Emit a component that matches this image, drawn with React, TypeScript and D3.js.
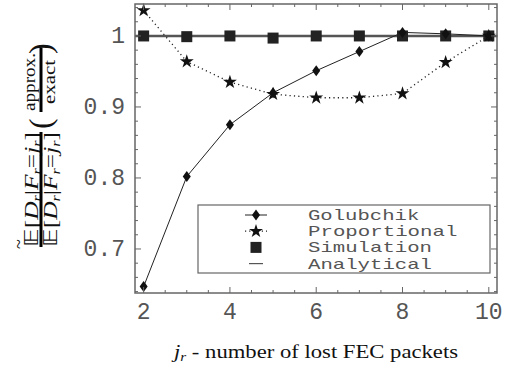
import React from 'react';
import * as d3 from 'd3';

// values
const jr = [2, 3, 4, 5, 6, 7, 8, 9, 10];
const golubchik = [0.647, 0.802, 0.875, 0.92, 0.951, 0.978, 1.005, 1.003, 1.0];
const proportional = [1.036, 0.964, 0.935, 0.918, 0.913, 0.913, 0.919, 0.963, 1.0];
const simulation = [1.0, 0.999, 1.0, 0.997, 1.0, 1.0, 1.0, 1.0, 1.0];
const analyticalX = [1.8, 10.2];
const analyticalY = [1.0, 1.0];

const xTickLabels = [2, 4, 6, 8, 10];
const yTickLabels = [0.7, 0.8, 0.9, 1];
const legendItems = ['Golubchik', 'Proportional', 'Simulation', 'Analytical'];

const W = 516;
const H = 368;
const plot = { left: 135, right: 497, top: 4, bottom: 293 };

const monoFont = '"Liberation Mono", "DejaVu Sans Mono", monospace';
const serifFont = '"Liberation Serif", "DejaVu Serif", serif';

const diamondPath = 'M0,-5.5L4,0L0,5.5L-4,0Z';
const starPath = d3.symbol(d3.symbolStar, 60)() as string;

// E[D_r | F_r = j_r] written out as tspans
const Expectation: React.FC<{ y: number }> = ({ y }) => (
  <text x={-247} y={y} fontSize={19} textLength={115} lengthAdjust="spacingAndGlyphs">
    <tspan fontFamily="DejaVu Sans">𝔼</tspan>
    <tspan>[</tspan>
    <tspan fontStyle="italic">D</tspan>
    <tspan fontStyle="italic" fontSize={12} dy={3}>r</tspan>
    <tspan dy={-3}>|</tspan>
    <tspan fontStyle="italic">F</tspan>
    <tspan fontStyle="italic" fontSize={12} dy={3}>r</tspan>
    <tspan dy={-3}>=</tspan>
    <tspan fontStyle="italic">j</tspan>
    <tspan fontStyle="italic" fontSize={12} dy={3}>r</tspan>
    <tspan dy={-3}>]</tspan>
  </text>
);

const App: React.FC = () => {
  const x = d3.scaleLinear().domain([1.8, 10.19]).range([plot.left, plot.right]);
  const y = d3.scaleLinear().domain([0.638, 1.045]).range([plot.bottom, plot.top]);

  const line = d3.line<[number, number]>()
    .x(d => x(d[0]))
    .y(d => y(d[1]));

  const golPts = jr.map((v, i) => [v, golubchik[i]] as [number, number]);
  const propPts = jr.map((v, i) => [v, proportional[i]] as [number, number]);
  const anaPts = analyticalX.map((v, i) => [v, analyticalY[i]] as [number, number]);

  const xTicks = d3.range(2, 10.01, 0.5);
  const yTicks = d3.range(0.64, 1.041, 0.02);
  const isMajorY = (v: number) => Math.abs(v * 10 - Math.round(v * 10)) < 1e-6;
  const isMajorX = (v: number) => Math.abs(v / 2 - Math.round(v / 2)) < 1e-6;

  const frame = '#666';
  const textCol = '#555';

  // legend geometry
  const lg = { x: 198, y: 205, w: 292, h: 68 };
  const rowY = (i: number) => 215 + i * 16.2;
  const markX = 256;
  const labelX = 308;

  return (
    <svg width={W} height={H} style={{ position: 'absolute', left: 0, top: 0, background: '#fff' }}>
      {/* analytical line */}
      <path d={line(anaPts) || ''} fill="none" stroke="#555" strokeWidth={2.5} />

      {/* proportional dotted */}
      <path d={line(propPts) || ''} fill="none" stroke="#222" strokeWidth={1.3} strokeDasharray="1.2 3.2" />
      {/* golubchik solid */}
      <path d={line(golPts) || ''} fill="none" stroke="#222" strokeWidth={1} />

      {/* simulation squares */}
      {jr.map((v, i) => (
        <rect key={'s' + v} x={x(v) - 5.5} y={y(simulation[i]) - 5.5} width={11} height={11} fill="#222" />
      ))}
      {jr.map((v, i) => (
        <path key={'g' + v} d={diamondPath} transform={`translate(${x(v)},${y(golubchik[i])})`} fill="#111" />
      ))}
      {jr.map((v, i) => (
        <path key={'p' + v} d={starPath} transform={`translate(${x(v)},${y(proportional[i])})`} fill="#111" />
      ))}

      {/* frame */}
      <rect x={plot.left} y={plot.top} width={plot.right - plot.left} height={plot.bottom - plot.top}
        fill="none" stroke={frame} strokeWidth={1.5} />
      {xTicks.map(t => {
        const len = isMajorX(t) ? 6 : 3;
        return (
          <g key={'xt' + t} stroke={frame} strokeWidth={1}>
            <line x1={x(t)} x2={x(t)} y1={plot.bottom} y2={plot.bottom - len} />
            <line x1={x(t)} x2={x(t)} y1={plot.top} y2={plot.top + len} />
          </g>
        );
      })}
      {yTicks.map(t => {
        const len = isMajorY(t) ? 6 : 3;
        return (
          <g key={'yt' + t.toFixed(2)} stroke={frame} strokeWidth={1}>
            <line x1={plot.left} x2={plot.left + len} y1={y(t)} y2={y(t)} />
            <line x1={plot.right} x2={plot.right - len} y1={y(t)} y2={y(t)} />
          </g>
        );
      })}

      {/* tick labels */}
      {xTickLabels.map(t => (
        <text key={'xl' + t} x={x(t)} y={319} textAnchor="middle" fontFamily={monoFont}
          fontSize={23} fill={textCol}>{t}</text>
      ))}
      {yTickLabels.map(t => (
        <text key={'yl' + t} x={125} y={y(t) + 7} textAnchor="end" fontFamily={monoFont}
          fontSize={23} fill={textCol}>{t === 1 ? '1' : t.toFixed(1)}</text>
      ))}

      {/* legend */}
      <rect x={lg.x} y={lg.y} width={lg.w} height={lg.h} fill="#fff" stroke={frame} strokeWidth={1.2} />
      <line x1={markX - 11} x2={markX + 11} y1={rowY(0)} y2={rowY(0)} stroke="#222" strokeWidth={1} />
      <path d={diamondPath} transform={`translate(${markX},${rowY(0)})`} fill="#111" />
      <line x1={markX - 11} x2={markX + 11} y1={rowY(1)} y2={rowY(1)} stroke="#222" strokeWidth={1.2} strokeDasharray="1.2 3" />
      <path d={starPath} transform={`translate(${markX},${rowY(1)})`} fill="#111" />
      <rect x={markX - 5.5} y={rowY(2) - 5.5} width={11} height={11} fill="#222" />
      <line x1={markX - 7} x2={markX + 7} y1={rowY(3)} y2={rowY(3)} stroke="#555" strokeWidth={1.2} />
      {legendItems.map((name, i) => (
        <text key={name} x={labelX} y={rowY(i) + 5} fontFamily={monoFont} fontSize={15} fill={textCol}
          textLength={name.length * 12.7 - 3} lengthAdjust="spacingAndGlyphs">{name}</text>
      ))}

      {/* x axis title */}
      <text x={174} y={358} fontFamily={serifFont} fontSize={18} fill="#111" textLength={284} lengthAdjust="spacingAndGlyphs">
        <tspan fontStyle="italic">j</tspan>
        <tspan fontStyle="italic" fontSize={12} dy={3}>r</tspan>
        <tspan dy={-3}> - number of lost FEC packets</tspan>
      </text>

      {/* y axis title, rotated */}
      <g transform="rotate(-90)" fontFamily={serifFont} fill="#111">
        <Expectation y={38} />
        <text x={-249} y={25} fontSize={18}>~</text>
        <line x1={-247} x2={-132} y1={41} y2={41} stroke="#000" strokeWidth={3} />
        <Expectation y={57} />
        <text x={-129} y={51} fontSize={32}>(</text>
        <text x={-111} y={35} fontSize={17} textLength={58} lengthAdjust="spacingAndGlyphs">approx.</text>
        <line x1={-112} x2={-48} y1={41} y2={41} stroke="#000" strokeWidth={3} />
        <text x={-104} y={55} fontSize={17} textLength={44} lengthAdjust="spacingAndGlyphs">exact</text>
        <text x={-54} y={51} fontSize={32}>)</text>
      </g>
    </svg>
  );
};

export default App;
